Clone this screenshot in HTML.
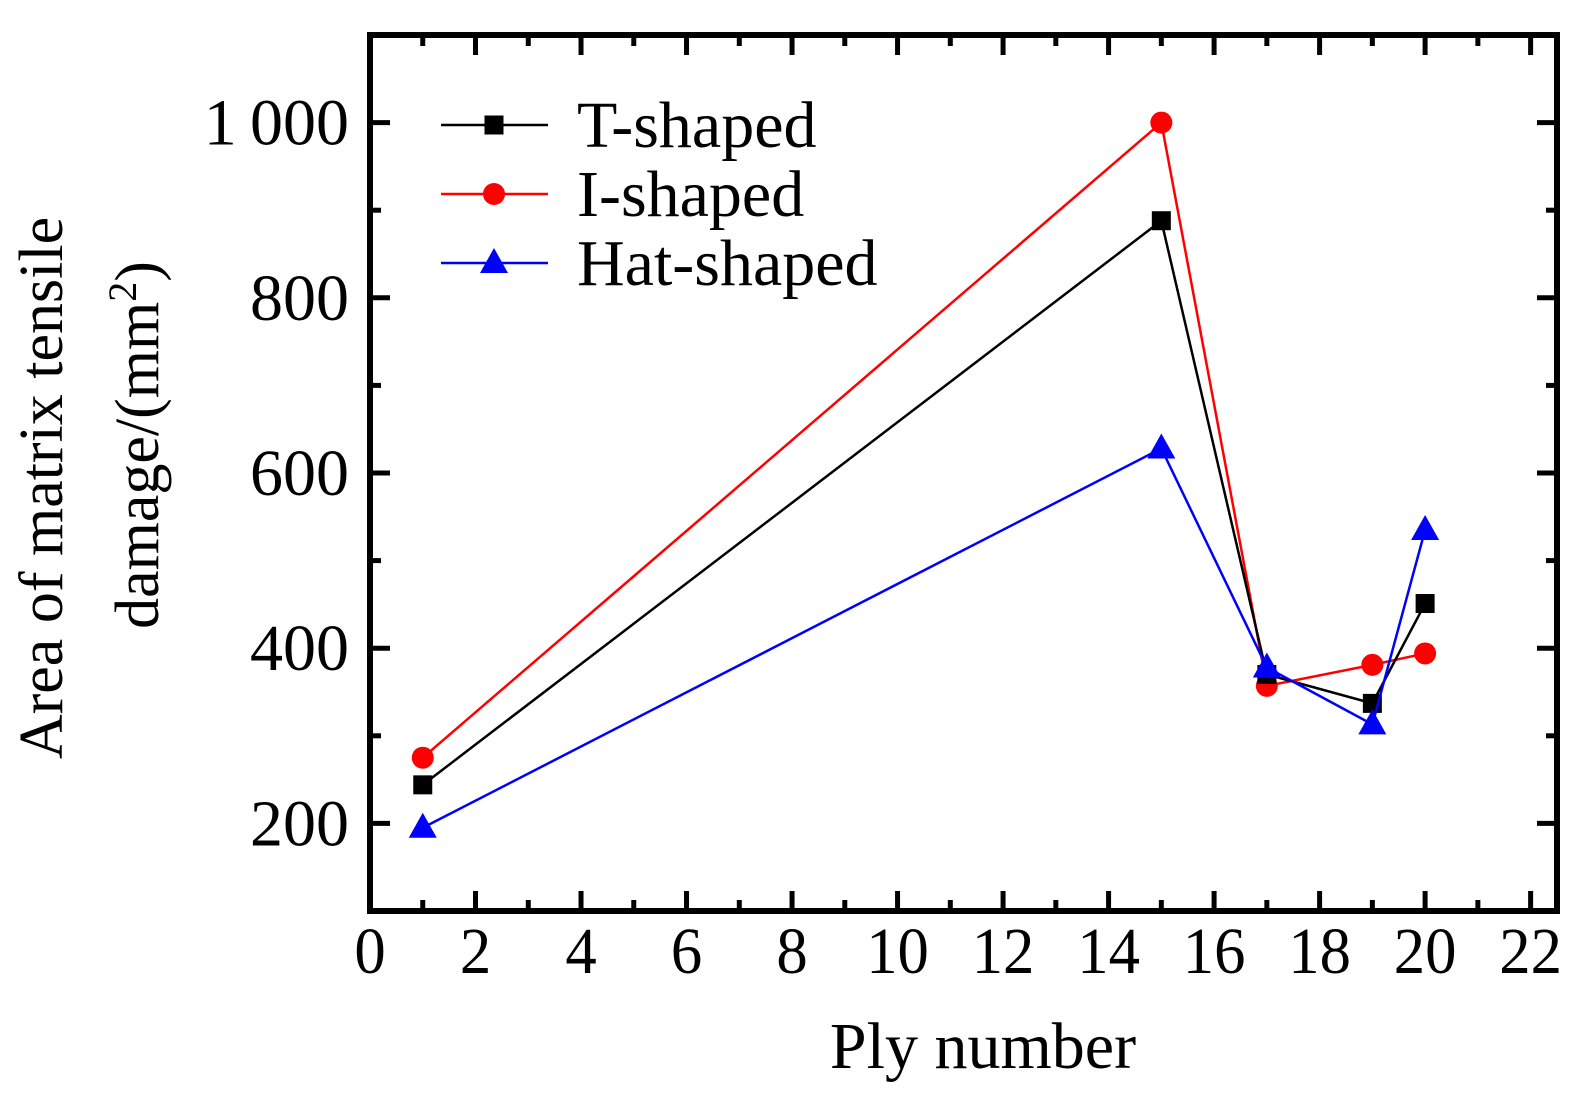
<!DOCTYPE html>
<html><head><meta charset="utf-8"><style>
html,body{margin:0;padding:0;background:#fff}
svg{display:block}
text{font-family:"Liberation Serif",serif;fill:#000}
</style></head><body>
<svg id="chart" width="1595" height="1103" viewBox="0 0 1595 1103" xmlns="http://www.w3.org/2000/svg">
<g id="series"></g>
<g id="axes"></g>
</svg>
<script>
const plies = [1, 15, 17, 19, 20];
const tShaped = [244, 888, 370, 337, 451];
const iShaped = [275, 1000, 357, 381, 394];
const hatShaped = [195, 628, 378, 313, 535];
const xTicks = [0, 2, 4, 6, 8, 10, 12, 14, 16, 18, 20, 22];
const yTicks = [200, 400, 600, 800, 1000];
const yTickLabels = ["200", "400", "600", "800", "1\u2009000"];

const NS = "http://www.w3.org/2000/svg";
const L = 370, R = 1557, T = 35, B = 911;
const xMin = 0, xMax = 22.5, yMin = 100, yMax = 1100;
function X(v){ return L + (v - xMin) / (xMax - xMin) * (R - L); }
function Y(v){ return B - (v - yMin) / (yMax - yMin) * (B - T); }
function mk(tag, attrs, parent){
  const e = document.createElementNS(NS, tag);
  for (const k in attrs) e.setAttribute(k, attrs[k]);
  parent.appendChild(e);
  return e;
}
const axes = document.getElementById('axes');
const series = document.getElementById('series');

const frame = mk('rect', {x:L, y:T, width:R-L, height:B-T, fill:'none', stroke:'#000', 'stroke-width':6}, axes);



for (let v = 1; v <= 22; v++){
  const len = v % 2 === 0 ? 20 : 11;
  [[B, B-len],[T, T+len]].forEach(p => {
    const t = mk('line', {x1:X(v), x2:X(v), y1:p[0], y2:p[1], stroke:'#000', 'stroke-width':5}, axes);
    
    
  });
}
xTicks.forEach(v => {
  const tx = mk('text', {x:X(v), y:B+62, 'font-size':66, 'text-anchor':'middle', transform:`translate(${X(v)},0) scale(0.95,1) translate(${-X(v)},0)`}, axes);
  tx.textContent = v;
  
  
});
for (let v = 200; v <= 1000; v += 100){
  const len = v % 200 === 0 ? 20 : 11;
  [[L, L+len],[R, R-len]].forEach(p => {
    const t = mk('line', {x1:p[0], x2:p[1], y1:Y(v), y2:Y(v), stroke:'#000', 'stroke-width':5}, axes);
    
    
  });
}
yTicks.forEach((v,i) => {
  const tx = mk('text', {x:349, y:Y(v)+22, 'font-size':66, 'text-anchor':'end'}, axes);
  tx.textContent = yTickLabels[i];
  
  
});
const xt = mk('text', {x:983, y:1068, 'font-size':66, 'text-anchor':'middle'}, axes);
xt.textContent = 'Ply number';


const yt1 = mk('text', {x:0, y:0, 'font-size':62, 'text-anchor':'middle', transform:'translate(62,488) rotate(-90)'}, axes);
yt1.textContent = 'Area of matrix tensile';


const yt2 = mk('text', {x:0, y:0, 'font-size':62, 'text-anchor':'middle', transform:'translate(158,445) rotate(-90)'}, axes);
yt2.innerHTML = 'damage/(mm<tspan font-size="40" dy="-22">2</tspan><tspan dy="22">)</tspan>';



function marker(type, cx, cy, color, parent){
  let m;
  if (type === 'square') m = mk('rect', {x:cx-9.5, y:cy-9.5, width:19, height:19, fill:color}, parent);
  else if (type === 'circle') m = mk('circle', {cx:cx, cy:cy, r:11, fill:color}, parent);
  else m = mk('polygon', {points:`${cx},${cy-15} ${cx-14},${cy+10} ${cx+14},${cy+10}`, fill:color}, parent);
  return m;
}
const allSeries = [
  {name:'i-shaped', vals:iShaped, color:'#ff0000', m:'circle', label:'I-shaped'},
  {name:'t-shaped', vals:tShaped, color:'#000000', m:'square', label:'T-shaped'},
  {name:'hat-shaped', vals:hatShaped, color:'#0000ff', m:'triangle', label:'Hat-shaped'}
];
allSeries.forEach(s => {
  const g = mk('g', {}, series);
  
  
  const pts = plies.map((p,i) => X(p) + ',' + Y(s.vals[i])).join(' ');
  const pl = mk('polyline', {points:pts, fill:'none', stroke:s.color, 'stroke-width':2.5}, g);
  
  
  plies.forEach((p,i) => {
    const m = marker(s.m, X(p), Y(s.vals[i]), s.color, g);
    
    
  });
});
const legendOrder = [allSeries[1], allSeries[0], allSeries[2]];
const leg = mk('g', {}, axes);


legendOrder.forEach((s,i) => {
  const y = 125 + i * 69;
  const g = mk('g', {}, leg);
  
  
  mk('line', {x1:441, x2:548, y1:y, y2:y, stroke:s.color, 'stroke-width':2.5}, g);
  marker(s.m, 494, y, s.color, g);
  const t = mk('text', {x:577, y:y+22, 'font-size':66}, g);
  t.textContent = s.label;
});
</script>
</body></html>
